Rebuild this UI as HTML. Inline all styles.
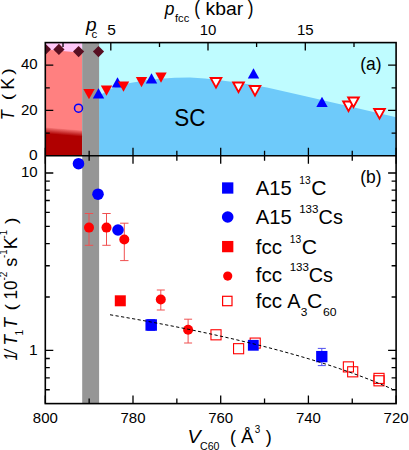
<!DOCTYPE html><html><head><meta charset="utf-8"><style>html,body{margin:0;padding:0;background:#fff;width:409px;height:450px;overflow:hidden}</style></head><body><svg width="409" height="450" viewBox="0 0 409 450" style="position:absolute;left:0;top:0;font-family:'Liberation Sans',sans-serif">
<defs><linearGradient id="g" x1="0" y1="0" x2="0" y2="1"><stop offset="0" stop-color="#f47272"/><stop offset="0.5" stop-color="#cf3a3a"/><stop offset="1" stop-color="#b00000"/></linearGradient></defs>
<rect width="409" height="450" fill="#fff"/>
<rect x="45.3" y="42.6" width="350.8" height="113.1" fill="#bffcff"/>
<path d="M99.1,96.0 L108.0,90.0 L118.0,86.0 L130.0,83.0 L145.0,80.5 L160.0,78.7 L175.0,77.8 L190.0,77.6 L205.0,78.6 L220.0,80.3 L235.0,82.3 L250.0,84.6 L267.0,87.6 L300.0,95.0 L350.0,106.4 L396.1,117.2 L396.1,155.7 L99.1,155.7 Z" fill="#6ecafa"/>
<rect x="45.3" y="42.6" width="36.900000000000006" height="12" fill="#ffc8f8"/>
<path d="M45.3,49.6 L82.2,52.8 L82.2,155.7 L45.3,155.7 Z" fill="#ff8080"/>
<path d="M45.3,132.5 L82.2,135.8 L82.2,155.7 L45.3,155.7 Z" fill="#b00000"/>
<rect transform="translate(45.3,127.4) skewY(4.9)" x="0" y="0" width="36.900000000000006" height="6.2" fill="url(#g)"/>
<rect x="82.2" y="42.6" width="16.89999999999999" height="361.0" fill="#969696"/>
<clipPath id="cp"><rect x="45.3" y="42.6" width="350.8" height="361.0"/></clipPath>
<g clip-path="url(#cp)">
<path d="M39.8,49.3 L45.4,43.699999999999996 L51.0,49.3 L45.4,54.9 Z" fill="#580f22"/>
<path d="M53.3,49.4 L58.9,43.8 L64.5,49.4 L58.9,55.0 Z" fill="#580f22"/>
<path d="M73.0,51.6 L78.6,46.0 L84.19999999999999,51.6 L78.6,57.2 Z" fill="#580f22"/>
<path d="M92.9,51.6 L98.5,46.0 L104.1,51.6 L98.5,57.2 Z" fill="#580f22"/>
<path d="M83.3,88.94 L94.7,88.94 L89,99.2 Z" fill="#ff0000" stroke="none" stroke-width="0" stroke-linejoin="miter"/>
<path d="M92.8,98.56 L104.2,98.56 L98.5,88.3 Z" fill="#0000ff"/>
<path d="M100.8,85.44 L112.2,85.44 L106.5,95.7 Z" fill="#ff0000" stroke="none" stroke-width="0" stroke-linejoin="miter"/>
<path d="M111.8,87.56 L123.2,87.56 L117.5,77.3 Z" fill="#0000ff"/>
<path d="M117.8,81.44 L129.2,81.44 L123.5,91.7 Z" fill="#ff0000" stroke="none" stroke-width="0" stroke-linejoin="miter"/>
<path d="M135.8,76.94 L147.2,76.94 L141.5,87.2 Z" fill="#ff0000" stroke="none" stroke-width="0" stroke-linejoin="miter"/>
<path d="M145.8,83.56 L157.2,83.56 L151.5,73.3 Z" fill="#0000ff"/>
<path d="M155.3,72.44 L166.7,72.44 L161,82.7 Z" fill="#ff0000" stroke="none" stroke-width="0" stroke-linejoin="miter"/>
<path d="M247.8,78.56 L259.2,78.56 L253.5,68.3 Z" fill="#0000ff"/>
<path d="M316.3,107.06 L327.7,107.06 L322,96.8 Z" fill="#0000ff"/>
<path d="M210.7,78.06 L221.3,78.06 L216,87.6 Z" fill="#ffffff" stroke="#ff0000" stroke-width="1.9" stroke-linejoin="miter"/>
<path d="M233.2,82.56 L243.8,82.56 L238.5,92.1 Z" fill="#ffffff" stroke="#ff0000" stroke-width="1.9" stroke-linejoin="miter"/>
<path d="M249.7,86.06 L260.3,86.06 L255,95.6 Z" fill="#ffffff" stroke="#ff0000" stroke-width="1.9" stroke-linejoin="miter"/>
<path d="M343.2,101.56 L353.8,101.56 L348.5,111.1 Z" fill="#ffffff" stroke="#ff0000" stroke-width="1.9" stroke-linejoin="miter"/>
<path d="M348.2,97.56 L358.8,97.56 L353.5,107.1 Z" fill="#ffffff" stroke="#ff0000" stroke-width="1.9" stroke-linejoin="miter"/>
<path d="M374.2,109.06 L384.8,109.06 L379.5,118.6 Z" fill="#ffffff" stroke="#ff0000" stroke-width="1.9" stroke-linejoin="miter"/>
<circle cx="78.5" cy="108.2" r="4" fill="none" stroke="#0000ff" stroke-width="1.5"/>
</g>
<path d="M89,213.5 L89,245.3 M84.8,213.5 L93.2,213.5 M84.8,245.3 L93.2,245.3" stroke="#f05050" stroke-width="1" fill="none"/>
<path d="M106.5,213.5 L106.5,245.3 M102.3,213.5 L110.7,213.5 M102.3,245.3 L110.7,245.3" stroke="#f05050" stroke-width="1" fill="none"/>
<path d="M124.3,223.2 L124.3,260.6 M120.1,223.2 L128.5,223.2 M120.1,260.6 L128.5,260.6" stroke="#f05050" stroke-width="1" fill="none"/>
<path d="M160.8,290 L160.8,310 M156.8,290 L164.8,290 M156.8,310 L164.8,310" stroke="#f05050" stroke-width="1" fill="none"/>
<path d="M188.1,319.2 L188.1,343 M184.1,319.2 L192.1,319.2 M184.1,343 L192.1,343" stroke="#f05050" stroke-width="1" fill="none"/>
<path d="M321.8,348.4 L321.8,365.6 M317.8,348.4 L325.8,348.4 M317.8,365.6 L325.8,365.6" stroke="#5050f0" stroke-width="1" fill="none"/>
<path d="M151.2,319.5 L151.2,330.5 M147.2,319.5 L155.2,319.5 M147.2,330.5 L155.2,330.5" stroke="#5050f0" stroke-width="1" fill="none"/>
<circle cx="89" cy="227.6" r="5" fill="#ff0000" stroke="none" stroke-width="0"/>
<circle cx="106.5" cy="227.6" r="5" fill="#ff0000" stroke="none" stroke-width="0"/>
<circle cx="124.3" cy="239.5" r="5" fill="#ff0000" stroke="none" stroke-width="0"/>
<circle cx="160.8" cy="299.5" r="5" fill="#ff0000" stroke="none" stroke-width="0"/>
<circle cx="188.1" cy="329.7" r="5" fill="#ff0000" stroke="none" stroke-width="0"/>
<circle cx="78.5" cy="163.7" r="5.8" fill="#0000ff" stroke="none" stroke-width="0"/>
<circle cx="98" cy="194.2" r="5.8" fill="#0000ff" stroke="none" stroke-width="0"/>
<circle cx="118" cy="230" r="5.8" fill="#0000ff" stroke="none" stroke-width="0"/>
<rect x="114.8" y="295.3" width="11" height="11" fill="#ff0000" stroke="none" stroke-width="0"/>
<rect x="210.95" y="329.75" width="10.1" height="10.1" fill="none" stroke="#ff0000" stroke-width="1.1"/>
<rect x="233.54999999999998" y="343.65" width="10.1" height="10.1" fill="none" stroke="#ff0000" stroke-width="1.1"/>
<rect x="250.14999999999998" y="338.05" width="10.1" height="10.1" fill="none" stroke="#ff0000" stroke-width="1.1"/>
<rect x="343.34999999999997" y="361.84999999999997" width="10.1" height="10.1" fill="none" stroke="#ff0000" stroke-width="1.1"/>
<rect x="347.65" y="366.75" width="10.1" height="10.1" fill="none" stroke="#ff0000" stroke-width="1.1"/>
<rect x="373.95" y="373.34999999999997" width="10.1" height="10.1" fill="none" stroke="#ff0000" stroke-width="1.1"/>
<rect x="373.95" y="375.75" width="10.1" height="10.1" fill="none" stroke="#ff0000" stroke-width="1.1"/>
<rect x="145.45" y="319.25" width="11.5" height="11.5" fill="#0000ff" stroke="none" stroke-width="0"/>
<rect x="247.9" y="339.90000000000003" width="10.8" height="10.8" fill="#0000ff" stroke="none" stroke-width="0"/>
<rect x="316.15000000000003" y="350.95000000000005" width="11.3" height="11.3" fill="#0000ff" stroke="none" stroke-width="0"/>
<polyline points="110.0,314.75 116.0,315.77 122.0,316.81 128.0,317.86 134.0,318.92 140.0,320.00 146.0,321.09 152.0,322.20 158.0,323.32 164.0,324.46 170.0,325.62 176.0,326.80 182.0,327.99 188.0,329.20 194.0,330.44 200.0,331.69 206.0,332.96 212.0,334.26 218.0,335.57 224.0,336.91 230.0,338.28 236.0,339.66 242.0,341.08 248.0,342.52 254.0,343.98 260.0,345.48 266.0,347.00 272.0,348.56 278.0,350.15 284.0,351.77 290.0,353.43 296.0,355.12 302.0,356.85 308.0,358.62 314.0,360.43 320.0,362.29 326.0,364.19 332.0,366.14 338.0,368.14 344.0,370.19 350.0,372.30 356.0,374.47 362.0,376.70 368.0,379.00 374.0,381.37 380.0,383.82 386.0,386.34 392.0,388.95" stroke="#000" stroke-width="1" stroke-dasharray="3.2,2.4" fill="none"/>
<rect x="222.04999999999998" y="182.35" width="11.3" height="11.3" fill="#0000ff" stroke="none" stroke-width="0"/>
<circle cx="227.7" cy="217" r="5.8" fill="#0000ff" stroke="none" stroke-width="0"/>
<rect x="222.04999999999998" y="240.95" width="11.3" height="11.3" fill="#ff0000" stroke="none" stroke-width="0"/>
<circle cx="227.7" cy="276.1" r="4.6" fill="#ff0000" stroke="none" stroke-width="0"/>
<rect x="222.60000000000002" y="296.3" width="9.4" height="9.4" fill="#fff" stroke="#ff0000" stroke-width="1.2"/>
<text x="255.7" y="194.7" font-size="19.8" text-anchor="start" textLength="36" lengthAdjust="spacingAndGlyphs">A15</text>
<text x="299.2" y="183.9" font-size="11.2" text-anchor="start" textLength="11.4" lengthAdjust="spacingAndGlyphs">13</text>
<text x="311.3" y="194.7" font-size="19.8" text-anchor="start" textLength="15.3" lengthAdjust="spacingAndGlyphs">C</text>
<text x="255.7" y="223.6" font-size="19.8" text-anchor="start" textLength="36" lengthAdjust="spacingAndGlyphs">A15</text>
<text x="299.2" y="212.8" font-size="11.2" text-anchor="start" textLength="19.3" lengthAdjust="spacingAndGlyphs">133</text>
<text x="318.6" y="223.6" font-size="19.8" text-anchor="start" textLength="24.3" lengthAdjust="spacingAndGlyphs">Cs</text>
<text x="255.7" y="253.7" font-size="19.8" text-anchor="start" textLength="26.3" lengthAdjust="spacingAndGlyphs">fcc</text>
<text x="289.7" y="242.9" font-size="11.2" text-anchor="start" textLength="11.4" lengthAdjust="spacingAndGlyphs">13</text>
<text x="301.7" y="253.7" font-size="19.8" text-anchor="start" textLength="15.3" lengthAdjust="spacingAndGlyphs">C</text>
<text x="255.7" y="281.8" font-size="19.8" text-anchor="start" textLength="26.3" lengthAdjust="spacingAndGlyphs">fcc</text>
<text x="289.7" y="271.0" font-size="11.2" text-anchor="start" textLength="19.3" lengthAdjust="spacingAndGlyphs">133</text>
<text x="308.7" y="281.8" font-size="19.8" text-anchor="start" textLength="24.3" lengthAdjust="spacingAndGlyphs">Cs</text>
<text x="255.7" y="308.0" font-size="19.8" text-anchor="start" textLength="26.3" lengthAdjust="spacingAndGlyphs">fcc</text>
<text x="287.3" y="308.0" font-size="19.8" text-anchor="start" textLength="13.2" lengthAdjust="spacingAndGlyphs">A</text>
<text x="300.8" y="315.6" font-size="11.8" text-anchor="start" textLength="6.6" lengthAdjust="spacingAndGlyphs">3</text>
<text x="307.1" y="308.0" font-size="19.8" text-anchor="start" textLength="15.3" lengthAdjust="spacingAndGlyphs">C</text>
<text x="323" y="315.6" font-size="11.8" text-anchor="start" textLength="13.6" lengthAdjust="spacingAndGlyphs">60</text>
<rect x="45.3" y="42.6" width="350.8" height="361.0" fill="none" stroke="#000" stroke-width="1.6"/>
<path d="M45.3,155.7 L396.1,155.7" stroke="#000" stroke-width="1.6"/>
<path d="M45.30,403.6 v-8 M45.30,147.7 v16 M89.15,403.6 v-5 M89.15,150.7 v10 M133.00,403.6 v-8 M133.00,147.7 v16 M176.85,403.6 v-5 M176.85,150.7 v10 M220.70,403.6 v-8 M220.70,147.7 v16 M264.55,403.6 v-5 M264.55,150.7 v10 M308.40,403.6 v-8 M308.40,147.7 v16 M352.25,403.6 v-5 M352.25,150.7 v10 M396.10,403.6 v-8 M396.10,147.7 v16 M63.0,42.6 v4.5 M110.8,42.6 v8 M159.5,42.6 v4.5 M208,42.6 v8 M256.6,42.6 v4.5 M305.3,42.6 v8 M354,42.6 v4.5 M45.3,133.07 h4.5 M396.1,133.07 h-4.5 M45.3,110.45 h8 M396.1,110.45 h-8 M45.3,87.82 h4.5 M396.1,87.82 h-4.5 M45.3,65.20 h8 M396.1,65.20 h-8 M45.3,389.76 h4.5 M396.1,389.76 h-4.5 M45.3,377.88 h4.5 M396.1,377.88 h-4.5 M45.3,367.59 h4.5 M396.1,367.59 h-4.5 M45.3,358.52 h4.5 M396.1,358.52 h-4.5 M45.3,350.40 h8 M396.1,350.40 h-8 M45.3,297.00 h4.5 M396.1,297.00 h-4.5 M45.3,265.76 h4.5 M396.1,265.76 h-4.5 M45.3,243.59 h4.5 M396.1,243.59 h-4.5 M45.3,226.40 h4.5 M396.1,226.40 h-4.5 M45.3,212.36 h4.5 M396.1,212.36 h-4.5 M45.3,200.48 h4.5 M396.1,200.48 h-4.5 M45.3,190.19 h4.5 M396.1,190.19 h-4.5 M45.3,181.12 h4.5 M396.1,181.12 h-4.5 M45.3,173.00 h8 M396.1,173.00 h-8" stroke="#000" stroke-width="1.3" fill="none"/>
<text x="45.3" y="423.4" font-size="15.5" text-anchor="middle" textLength="25.0" lengthAdjust="spacingAndGlyphs">800</text>
<text x="133.0" y="423.4" font-size="15.5" text-anchor="middle" textLength="25.0" lengthAdjust="spacingAndGlyphs">780</text>
<text x="220.7" y="423.4" font-size="15.5" text-anchor="middle" textLength="25.0" lengthAdjust="spacingAndGlyphs">760</text>
<text x="308.4" y="423.4" font-size="15.5" text-anchor="middle" textLength="25.0" lengthAdjust="spacingAndGlyphs">740</text>
<text x="396.1" y="423.4" font-size="15.5" text-anchor="middle" textLength="25.0" lengthAdjust="spacingAndGlyphs">720</text>
<text x="37.6" y="69.3" font-size="15.5" text-anchor="end" textLength="16.7" lengthAdjust="spacingAndGlyphs">40</text>
<text x="37.6" y="114.5" font-size="15.5" text-anchor="end" textLength="16.7" lengthAdjust="spacingAndGlyphs">20</text>
<text x="37.6" y="159.8" font-size="15.5" text-anchor="end">0</text>
<text x="37.6" y="177.1" font-size="15.5" text-anchor="end" textLength="16.7" lengthAdjust="spacingAndGlyphs">10</text>
<text x="37.6" y="354.5" font-size="15.5" text-anchor="end">1</text>
<text x="111.6" y="35.2" font-size="15.5" text-anchor="middle">5</text>
<text x="208" y="35.2" font-size="15.5" text-anchor="middle" textLength="16.7" lengthAdjust="spacingAndGlyphs">10</text>
<text x="305.3" y="35.2" font-size="15.5" text-anchor="middle" textLength="16.7" lengthAdjust="spacingAndGlyphs">15</text>
<text x="85.9" y="31.3" font-size="19" text-anchor="start" textLength="10.6" lengthAdjust="spacingAndGlyphs" font-style="italic">p</text>
<text x="91.5" y="37.8" font-size="11.5" text-anchor="start">c</text>
<text x="164.8" y="14.7" font-size="18.9" text-anchor="start" textLength="9.7" lengthAdjust="spacingAndGlyphs" font-style="italic">p</text>
<text x="175" y="22" font-size="11.2" text-anchor="start" textLength="14.2" lengthAdjust="spacingAndGlyphs">fcc</text>
<text x="194.2" y="14.9" font-size="19.3" text-anchor="start" textLength="5.7" lengthAdjust="spacingAndGlyphs">(</text>
<text x="205.6" y="14.7" font-size="18.9" text-anchor="start" textLength="37.6" lengthAdjust="spacingAndGlyphs">kbar</text>
<text x="247.8" y="14.9" font-size="19.3" text-anchor="start" textLength="5.7" lengthAdjust="spacingAndGlyphs">)</text>
<text x="360.3" y="69.5" font-size="17.6" text-anchor="start" textLength="21.3" lengthAdjust="spacingAndGlyphs">(a)</text>
<text x="360.3" y="182.8" font-size="17.6" text-anchor="start" textLength="21.3" lengthAdjust="spacingAndGlyphs">(b)</text>
<text x="174.3" y="126.1" font-size="24.3" text-anchor="start" textLength="31.2" lengthAdjust="spacingAndGlyphs">SC</text>
<text transform="translate(13.8,120.3) rotate(-90)" font-size="17.6" textLength="10" lengthAdjust="spacingAndGlyphs" font-style="italic">T</text>
<text transform="translate(12.7,100.3) rotate(-90)" font-size="15.4" textLength="6.5" lengthAdjust="spacingAndGlyphs">(</text>
<text transform="translate(13.8,89.7) rotate(-90)" font-size="17.6" textLength="12" lengthAdjust="spacingAndGlyphs">K</text>
<text transform="translate(12.7,74.8) rotate(-90)" font-size="15.4" textLength="6.5" lengthAdjust="spacingAndGlyphs">)</text>
<text transform="translate(16.7,360.2) rotate(-90)" font-size="17.6" textLength="7.2" lengthAdjust="spacingAndGlyphs" font-style="italic">1</text>
<text transform="translate(16.7,353.9) rotate(-90)" font-size="17.6" textLength="4.2" lengthAdjust="spacingAndGlyphs" font-style="italic">/</text>
<text transform="translate(16.7,345.5) rotate(-90)" font-size="17.6" textLength="10.5" lengthAdjust="spacingAndGlyphs" font-style="italic">T</text>
<text transform="translate(22.7,335.5) rotate(-90)" font-size="10.3">1</text>
<text transform="translate(16.7,328.5) rotate(-90)" font-size="17.6" textLength="10.5" lengthAdjust="spacingAndGlyphs" font-style="italic">T</text>
<text transform="translate(16.7,310.5) rotate(-90)" font-size="16.5" textLength="6.5" lengthAdjust="spacingAndGlyphs">(</text>
<text transform="translate(16.7,299.5) rotate(-90)" font-size="17.6" textLength="19" lengthAdjust="spacingAndGlyphs">10</text>
<text transform="translate(7.0,280.5) rotate(-90)" font-size="10.5" textLength="9" lengthAdjust="spacingAndGlyphs">-2</text>
<text transform="translate(16.7,266.8) rotate(-90)" font-size="17.6" textLength="9" lengthAdjust="spacingAndGlyphs">s</text>
<text transform="translate(7.0,258) rotate(-90)" font-size="10.5" textLength="8.5" lengthAdjust="spacingAndGlyphs">-1</text>
<text transform="translate(16.7,249.2) rotate(-90)" font-size="17.6" textLength="12.2" lengthAdjust="spacingAndGlyphs">K</text>
<text transform="translate(7.0,238.5) rotate(-90)" font-size="10.5" textLength="8.5" lengthAdjust="spacingAndGlyphs">-1</text>
<text transform="translate(16.7,224) rotate(-90)" font-size="16.5" textLength="6.5" lengthAdjust="spacingAndGlyphs">)</text>
<text x="187.4" y="442.7" font-size="19" text-anchor="start" textLength="13.2" lengthAdjust="spacingAndGlyphs" font-style="italic">V</text>
<text x="200.0" y="449.6" font-size="10.5" text-anchor="start" textLength="19.4" lengthAdjust="spacingAndGlyphs">C60</text>
<text x="230.0" y="442.7" font-size="19" text-anchor="start" textLength="6" lengthAdjust="spacingAndGlyphs">(</text>
<text x="241.0" y="442.7" font-size="19" text-anchor="start" textLength="12.6" lengthAdjust="spacingAndGlyphs">Å</text>
<text x="254.8" y="432.5" font-size="10.5" text-anchor="start" textLength="5.5" lengthAdjust="spacingAndGlyphs">3</text>
<text x="265.7" y="442.7" font-size="19" text-anchor="start" textLength="6" lengthAdjust="spacingAndGlyphs">)</text>
</svg></body></html>
